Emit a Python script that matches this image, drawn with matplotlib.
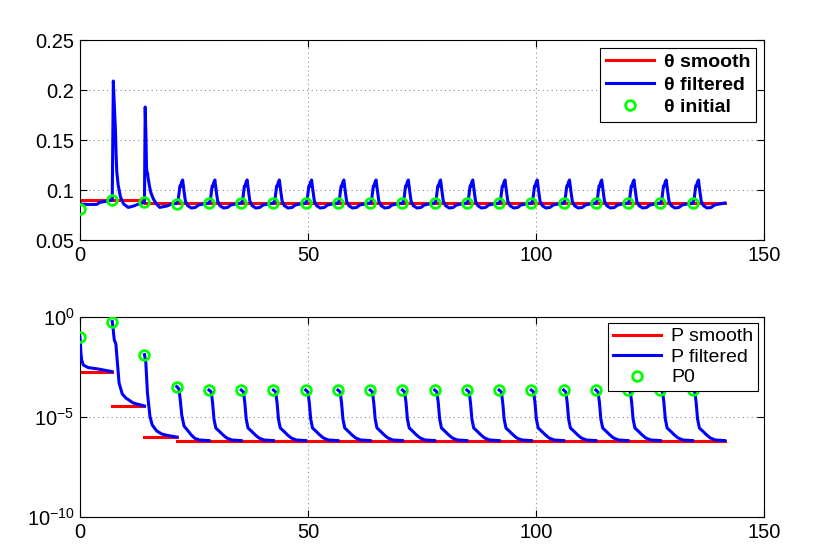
import numpy as np
import matplotlib
matplotlib.use("Agg")
import matplotlib.pyplot as plt
from matplotlib.ticker import FixedLocator, NullLocator, LogFormatterSciNotation

# ---------------- data ----------------
seg_starts = [0.0, 7.07, 14.14, 21.21, 28.28, 35.35, 42.42, 49.49, 56.56, 63.63,
              70.7, 77.77, 84.84, 91.91, 98.98, 106.05, 113.12, 120.19, 127.26, 134.33]
seg_end = 141.4

# top panel: theta
theta_initial = [0.0807, 0.0903, 0.0877, 0.0863, 0.0866, 0.0868, 0.0869, 0.087, 0.087, 0.087,
                 0.087, 0.087, 0.087, 0.087, 0.087, 0.087, 0.087, 0.087, 0.087, 0.087]
theta_smooth = [0.0903, 0.0898, 0.0872, 0.0866, 0.0866, 0.0866, 0.0866, 0.0866, 0.0866, 0.0866,
                0.0866, 0.0866, 0.0866, 0.0866, 0.0866, 0.0866, 0.0866, 0.0866, 0.0866, 0.0866]

theta_seg0_off = [0.0, 1.0, 2.0, 3.66, 4.4, 5.5, 6.6, 7.07]
theta_seg0_val = [0.086, 0.0857, 0.0855, 0.0856, 0.0877, 0.0885, 0.0898, 0.0903]
theta_seg1_off = [0.0, 0.12, 0.24, 0.4, 0.55, 0.7, 0.85, 1.0, 1.3, 1.8, 2.5, 3.5, 4.7, 5.8, 7.07]
theta_seg1_val = [0.0903, 0.15, 0.209, 0.19, 0.175, 0.16, 0.135, 0.118, 0.105, 0.093,
                  0.086, 0.0826, 0.084, 0.086, 0.0877]
theta_seg2_off = [0.0, 0.08, 0.16, 0.33, 0.45, 0.55, 0.66, 0.8, 1.05, 1.35, 1.95, 2.65, 3.35,
                  4.9, 6.0, 7.07]
theta_seg2_val = [0.0877, 0.14, 0.183, 0.152, 0.122, 0.118, 0.117, 0.112, 0.105, 0.098, 0.091,
                  0.086, 0.0826, 0.084, 0.086, 0.0866]
theta_typ_off = [0.0, 0.3, 0.7, 0.85, 1.05, 1.3, 1.6, 1.9, 2.4, 3.2, 4.1, 4.8, 5.9, 7.07]
theta_typ_val = [0.087, 0.0893, 0.104, 0.1035, 0.1076, 0.110, 0.099, 0.089, 0.0843, 0.082,
                 0.0826, 0.085, 0.086, 0.087]

# bottom panel: P (log10 values)
P0_log = [-1.0, -0.23, -1.88, -3.48, -3.65, -3.65, -3.65, -3.65, -3.65, -3.65,
          -3.65, -3.65, -3.65, -3.65, -3.65, -3.65, -3.65, -3.65, -3.65, -3.65]
P_smooth_log = [-2.73, -4.45, -6.0, -6.18, -6.18, -6.18, -6.18, -6.18, -6.18, -6.18,
                -6.18, -6.18, -6.18, -6.18, -6.18, -6.18, -6.18, -6.18, -6.18, -6.18]

P_seg0_off = [0.0, 0.1, 0.2, 0.37, 0.73, 1.8, 4.0, 7.0]
P_seg0_val = [-1.0, -1.3, -1.8, -2.15, -2.4, -2.53, -2.6, -2.73]
P_seg1_off = [0.0, 0.15, 0.45, 0.8, 1.1, 1.5, 2.2, 3.0, 4.6, 7.07]
P_seg1_val = [-0.23, -0.5, -1.15, -1.35, -2.2, -3.3, -3.85, -4.05, -4.3, -4.45]
P_seg2_off = [0.0, 0.1, 0.3, 0.65, 1.2, 1.7, 2.7, 3.8, 5.0, 7.07]
P_seg2_val = [-1.88, -2.0, -2.3, -3.8, -4.97, -5.4, -5.7, -5.85, -5.92, -6.0]
P_seg3_off = [0.0, 0.5, 0.8, 1.1, 1.6, 2.5, 3.2, 4.0, 5.0, 7.07]
P_seg3_val = [-3.48, -3.6, -4.2, -4.9, -5.45, -5.7, -5.9, -6.07, -6.15, -6.18]
P_typ_off = [0.0, 0.5, 0.8, 1.1, 1.5, 2.3, 3.1, 3.9, 5.0, 7.07]
P_typ_val = [-3.65, -3.75, -4.3, -5.1, -5.55, -5.72, -5.9, -6.05, -6.15, -6.18]

x_ticks = [0, 50, 100, 150]
theta_yticks = [0.05, 0.1, 0.15, 0.2, 0.25]
theta_yticklabels = ["0.05", "0.1", "0.15", "0.2", "0.25"]
P_yticks = [1e-10, 1e-5, 1e0]

# ---------------- style ----------------
plt.rcParams['font.family'] = ['Liberation Sans', 'DejaVu Sans']
plt.rcParams['font.size'] = 14.5
plt.rcParams['mathtext.fontset'] = 'custom'
plt.rcParams['mathtext.rm'] = 'Liberation Sans'
plt.rcParams['mathtext.it'] = 'Liberation Sans'
plt.rcParams['mathtext.default'] = 'regular'

RED = (1, 0, 0)
BLUE = (0, 0, 1)
GREEN = (0, 1, 0)
LW = 2.2

fig = plt.figure(figsize=(8.3, 5.54), dpi=100)
ax1 = fig.add_axes([80 / 830, (554 - 240) / 554, 684 / 830, 200 / 554])
ax2 = fig.add_axes([80 / 830, (554 - 517) / 554, 684 / 830, 200 / 554])

def style_axes(ax):
    ax.set_xlim(0, 150)
    ax.xaxis.set_major_locator(FixedLocator(x_ticks))
    ax.tick_params(direction='in', top=True, right=True, length=5, width=0.8,
                   labelsize=14.5, pad=4)
    ax.grid(True, which='major', linestyle=(0, (1, 3)), color='0.55', linewidth=0.8)
    for s in ax.spines.values():
        s.set_linewidth(0.8)
        s.set_color('black')

seg_ends = seg_starts[1:] + [seg_end]

# ---- top panel ----
theta_offs = [theta_seg0_off, theta_seg1_off, theta_seg2_off] + [theta_typ_off] * 17
theta_vals = [theta_seg0_val, theta_seg1_val, theta_seg2_val] + [theta_typ_val] * 17

sx, sy = [], []
for k in range(len(seg_starts)):
    sx += [seg_starts[k], seg_ends[k]]
    sy += [theta_smooth[k], theta_smooth[k]]
ax1.plot(sx, sy, color=RED, lw=LW, label='θ smooth', zorder=2)
for k in range(len(seg_starts)):
    xs = seg_starts[k] + np.array(theta_offs[k])
    ax1.plot(xs, theta_vals[k], color=BLUE, lw=LW, zorder=3,
             label='θ filtered' if k == 0 else None)
ax1.plot(seg_starts, theta_initial, linestyle='none', marker='o', markersize=7,
         markerfacecolor='none', markeredgecolor=GREEN, markeredgewidth=2,
         label='θ initial', zorder=4)
ax1.set_ylim(0.05, 0.25)
ax1.yaxis.set_major_locator(FixedLocator(theta_yticks))
ax1.set_yticklabels(theta_yticklabels)
style_axes(ax1)
leg1 = ax1.legend(loc='upper right', fancybox=False, edgecolor='black', framealpha=1,
                  prop={'weight': 'bold', 'size': 14}, handlelength=2.5,
                  borderaxespad=0.4, labelspacing=0.25, handletextpad=0.5,
                  borderpad=0.3)
leg1.get_frame().set_linewidth(0.8)

# ---- bottom panel ----
P_offs = [P_seg0_off, P_seg1_off, P_seg2_off, P_seg3_off] + [P_typ_off] * 16
P_vals = [P_seg0_val, P_seg1_val, P_seg2_val, P_seg3_val] + [P_typ_val] * 16

for k in range(len(seg_starts)):
    ax2.plot([seg_starts[k], seg_ends[k]], [10 ** P_smooth_log[k]] * 2, color=RED, lw=LW,
             zorder=2, label='P smooth' if k == 0 else None)
for k in range(len(seg_starts)):
    xs = seg_starts[k] + np.array(P_offs[k])
    ax2.plot(xs, 10 ** np.array(P_vals[k]), color=BLUE, lw=LW, zorder=3,
             label='P filtered' if k == 0 else None)
ax2.plot(seg_starts, 10 ** np.array(P0_log), linestyle='none', marker='o', markersize=7,
         markerfacecolor='none', markeredgecolor=GREEN, markeredgewidth=2,
         label='P0', zorder=4)
ax2.set_yscale('log')
ax2.set_ylim(1e-10, 1e0)
ax2.yaxis.set_major_locator(FixedLocator(P_yticks))
ax2.yaxis.set_major_formatter(LogFormatterSciNotation())
ax2.yaxis.set_minor_locator(NullLocator())
style_axes(ax2)
leg2 = ax2.legend(loc='upper right', fancybox=False, edgecolor='black', framealpha=1,
                  prop={'size': 14}, handlelength=2.5,
                  borderaxespad=0.3, labelspacing=0.15, handletextpad=0.5,
                  borderpad=0.25)
leg2.get_frame().set_linewidth(0.8)

fig.savefig('out.png', dpi=100)
